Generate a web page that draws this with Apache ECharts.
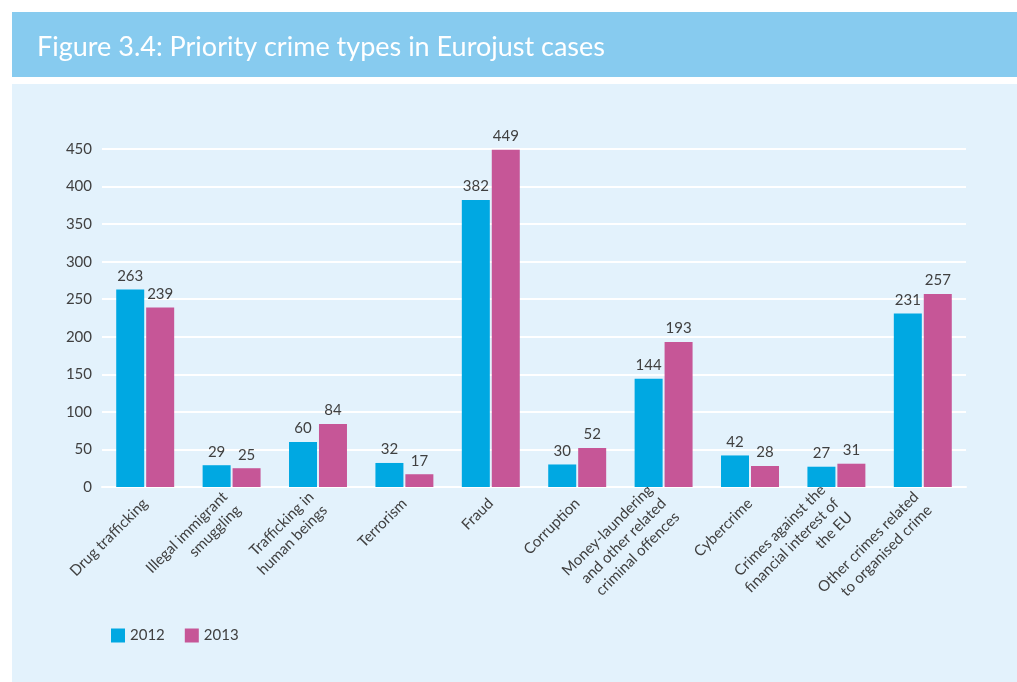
<html>
<head>
<meta charset="utf-8">
<script src="https://cdn.jsdelivr.net/npm/echarts@6/dist/echarts.min.js"></script>
<style>
  body{ margin:0; background:#fff; }
  #chart{ width:1017px; height:682px; }
</style>
</head>
<body>
<div id="chart"></div>
<script>
var categories = ['Drug trafficking', 'Illegal immigrant\nsmuggling', 'Trafficking in\nhuman beings', 'Terrorism', 'Fraud',
  'Corruption', 'Money-laundering\nand other related\ncriminal offences', 'Cybercrime',
  'Crimes against the\nfinancial interest of\nthe EU', 'Other crimes related\nto organised crime'];
var cases2012 = [263, 29, 60, 32, 382, 30, 144, 42, 27, 231];
var cases2013 = [239, 25, 84, 17, 449, 52, 193, 28, 31, 257];
var yTicks = [0, 450, 50]; // min, max, interval

var font = 'Lato';
var txt = '#404040';

var chart = echarts.init(document.getElementById('chart'));
chart.setOption({
  backgroundColor: '#fff',
  textStyle: { fontFamily: font },
  animation: false,
  graphic: [
    { type: 'rect', z: -10, shape: { x: 12, y: 12, width: 1005, height: 65 }, style: { fill: '#87CBEF' } },
    { type: 'rect', z: -10, shape: { x: 12, y: 84, width: 1005, height: 598 }, style: { fill: '#E3F2FC' } }
  ],
  title: {
    text: 'Figure 3.4: Priority crime types in Eurojust cases',
    left: 32, top: 29,
    textStyle: { color: '#fff', fontSize: 27, fontWeight: 'normal', fontFamily: font }
  },
  legend: {
    left: 106, top: 623,
    itemWidth: 14, itemHeight: 14, itemGap: 20,
    icon: 'rect',
    textStyle: { color: txt, fontSize: 15, fontFamily: font },
    data: ['2012', '2013']
  },
  grid: { left: 102, right: 51, top: 149, bottom: 195 },
  xAxis: {
    type: 'category',
    data: categories,
    axisLine: { lineStyle: { color: '#fff', width: 2 } },
    axisTick: { show: false },
    axisLabel: { rotate: 45, color: txt, fontSize: 15, lineHeight: 19, margin: 14, interval: 0, fontFamily: font }
  },
  yAxis: {
    type: 'value',
    min: yTicks[0], max: yTicks[1], interval: yTicks[2],
    axisLine: { show: false },
    axisTick: { show: false },
    axisLabel: { color: txt, fontSize: 15, margin: 10, fontFamily: font },
    splitLine: { lineStyle: { color: '#fff', width: 2 } }
  },
  series: [
    {
      name: '2012', type: 'bar', data: cases2012,
      barWidth: 28, barGap: '7%',
      itemStyle: { color: '#00A8E2' },
      label: { show: true, position: 'top', distance: 6, color: txt, fontSize: 15, fontFamily: font }
    },
    {
      name: '2013', type: 'bar', data: cases2013,
      barWidth: 28,
      itemStyle: { color: '#C65697' },
      label: { show: true, position: 'top', distance: 6, color: txt, fontSize: 15, fontFamily: font }
    }
  ]
});
</script>
</body>
</html>
